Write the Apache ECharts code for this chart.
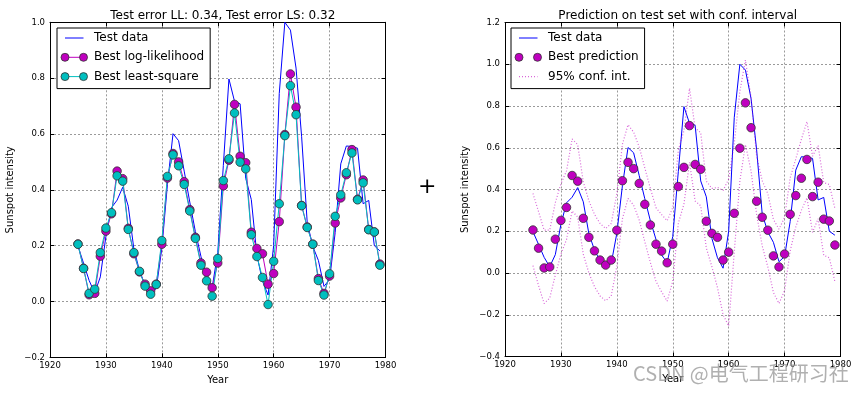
<!DOCTYPE html>
<html>
<head>
<meta charset="utf-8">
<script src="https://cdn.jsdelivr.net/npm/echarts@6/dist/echarts.min.js"></script>
<style>
html,body{margin:0;padding:0;background:#fff;}
#main{width:860px;height:393px;}
</style>
</head>
<body>
<div id="main"></div>
<script>
// ---------------- data ----------------
const years = [1925,1926,1927,1928,1929,1930,1931,1932,1933,1934,1935,1936,1937,1938,1939,1940,1941,1942,1943,1944,1945,1946,1947,1948,1949,1950,1951,1952,1953,1954,1955,1956,1957,1958,1959,1960,1961,1962,1963,1964,1965,1966,1967,1968,1969,1970,1971,1972,1973,1974,1975,1976,1977,1978,1979];
const testData = [0.198,0.137,0.075,0.030,0.088,0.233,0.336,0.363,0.409,0.341,0.188,0.111,0.058,0.030,0.046,0.190,0.419,0.601,0.576,0.467,0.356,0.250,0.161,0.086,0.050,0.175,0.487,0.797,0.717,0.708,0.441,0.365,0.166,0.073,0.023,0.200,0.745,1.000,0.972,0.836,0.590,0.283,0.197,0.147,0.054,0.079,0.247,0.493,0.557,0.555,0.549,0.350,0.362,0.200,0.181];
const bestLogLik = [0.206,0.119,0.024,0.029,0.162,0.252,0.314,0.467,0.440,0.262,0.171,0.106,0.062,0.038,0.062,0.205,0.442,0.530,0.500,0.429,0.329,0.230,0.138,0.105,0.049,0.138,0.414,0.506,0.706,0.520,0.497,0.248,0.190,0.171,0.062,0.100,0.286,0.598,0.815,0.696,0.344,0.267,0.205,0.082,0.029,0.091,0.281,0.371,0.454,0.544,0.366,0.435,0.258,0.249,0.134];
const bestLeastSq = [0.205,0.118,0.029,0.044,0.175,0.263,0.318,0.450,0.431,0.258,0.175,0.108,0.055,0.026,0.061,0.218,0.448,0.525,0.486,0.419,0.324,0.226,0.130,0.074,0.019,0.154,0.433,0.511,0.675,0.499,0.475,0.239,0.161,0.086,-0.011,0.144,0.350,0.594,0.773,0.669,0.343,0.265,0.205,0.075,0.023,0.099,0.305,0.382,0.461,0.532,0.364,0.425,0.257,0.249,0.130];
const bestPrediction = bestLogLik;
const ciUpper = [0.381,0.294,0.205,0.206,0.337,0.427,0.489,0.642,0.615,0.437,0.346,0.281,0.237,0.213,0.237,0.380,0.617,0.710,0.675,0.604,0.504,0.405,0.313,0.280,0.250,0.313,0.589,0.681,0.885,0.695,0.672,0.440,0.405,0.410,0.395,0.450,0.620,0.870,1.020,0.840,0.560,0.442,0.380,0.257,0.210,0.266,0.456,0.546,0.640,0.725,0.560,0.610,0.433,0.424,0.309];
const ciLower = [0.035,-0.060,-0.146,-0.120,-0.010,0.090,0.160,0.297,0.268,0.090,0.000,-0.065,-0.110,-0.133,-0.110,0.032,0.260,0.357,0.325,0.254,0.150,0.050,-0.040,-0.090,-0.135,-0.040,0.239,0.330,0.530,0.345,0.322,0.120,0.030,-0.070,-0.200,-0.254,0.100,0.440,0.615,0.490,0.280,0.130,0.030,-0.093,-0.146,-0.085,0.106,0.220,0.300,0.360,0.195,0.260,0.085,0.073,-0.041];
const xTicks = {min:1920, max:1980, interval:10};
const yLeft = {min:-0.2, max:1.0, interval:0.2};
const yRight = {min:-0.4, max:1.2, interval:0.2};
const titles = ['Test error LL: 0.34, Test error LS: 0.32','Prediction on test set with conf. interval'];

// ---------------- styling ----------------
const FONT = 'DejaVu Sans';
const BLUE = '#0000ff', MAG = '#bf00bf', CYAN = '#00bfbf', EDGE = '#333333';
const pairs = vals => years.map((y,i)=>[y, vals[i]]);
const fmtY = v => { const r = Math.round(v*10)/10; return (r<0?'\u2212':'') + Math.abs(r).toFixed(1); };

function svgIcon(inner){
  return 'image://data:image/svg+xml;charset=utf-8,' + encodeURIComponent(
    '<svg xmlns="http://www.w3.org/2000/svg" width="29" height="12" viewBox="0 0 29 12">' + inner + '</svg>');
}
const circ = (cx,col) => `<circle cx="${cx}" cy="6" r="4" fill="${col}" stroke="${EDGE}" stroke-width="0.8"/>`;
const icons = {
  test: svgIcon(`<line x1="5" y1="6" x2="23.5" y2="6" stroke="${BLUE}" stroke-width="1"/>`),
  ll: svgIcon(`<line x1="5" y1="6" x2="23.5" y2="6" stroke="${MAG}" stroke-width="1"/>` + circ(5,MAG) + circ(23.5,MAG)),
  ls: svgIcon(`<line x1="5" y1="6" x2="23.5" y2="6" stroke="${CYAN}" stroke-width="1"/>` + circ(5,CYAN) + circ(23.5,CYAN)),
  pred: svgIcon(circ(5,MAG) + circ(23.5,MAG)),
  ci: svgIcon(`<line x1="5" y1="6" x2="23.5" y2="6" stroke="${MAG}" stroke-opacity="0.6" stroke-width="1.2" stroke-dasharray="1,2"/>`)
};

function xAxes(grid){
  return [
    {type:'value', gridIndex:grid, position:'bottom', min:xTicks.min, max:xTicks.max, interval:xTicks.interval,
     name:'Year', nameLocation:'middle', nameGap:18,
     nameTextStyle:{fontFamily:FONT, fontSize:10, color:'#000'},
     axisLine:{show:true, onZero:false, lineStyle:{color:'#000', width:1}},
     axisTick:{show:true, inside:true, length:4, lineStyle:{color:'#000'}},
     axisLabel:{show:true, margin:4, fontFamily:FONT, fontSize:8.5, color:'#000', formatter:v=>String(v)},
     splitLine:{show:true, lineStyle:{color:'#9a9a9a', width:1, type:[2,2]}}},
    {type:'value', gridIndex:grid, position:'top', min:xTicks.min, max:xTicks.max, interval:xTicks.interval,
     axisLine:{show:true, onZero:false, lineStyle:{color:'#000', width:1}},
     axisTick:{show:true, inside:true, length:4, lineStyle:{color:'#000'}},
     axisLabel:{show:false}, splitLine:{show:false}}
  ];
}
function yAxes(grid, r){
  return [
    {type:'value', gridIndex:grid, position:'left', min:r.min, max:r.max, interval:r.interval,
     name:'Sunspot intensity', nameLocation:'middle', nameGap:35, nameRotate:90,
     nameTextStyle:{fontFamily:FONT, fontSize:10, color:'#000'},
     axisLine:{show:true, onZero:false, lineStyle:{color:'#000', width:1}},
     axisTick:{show:true, inside:true, length:4, lineStyle:{color:'#000'}},
     axisLabel:{show:true, margin:5, fontFamily:FONT, fontSize:8.5, color:'#000', formatter:fmtY},
     splitLine:{show:true, lineStyle:{color:'#9a9a9a', width:1, type:[2,2]}}},
    {type:'value', gridIndex:grid, position:'right', min:r.min, max:r.max, interval:r.interval,
     axisLine:{show:true, onZero:false, lineStyle:{color:'#000', width:1}},
     axisTick:{show:true, inside:true, length:4, lineStyle:{color:'#000'}},
     axisLabel:{show:false}, splitLine:{show:false}}
  ];
}
const legendBase = {
  orient:'vertical', backgroundColor:'#fff', borderColor:'#000', borderWidth:1, borderRadius:0,
  padding:[2,6,4,3], itemWidth:29, itemHeight:12, itemGap:3.3,
  textStyle:{fontFamily:FONT, fontSize:12, color:'#000', lineHeight:16},
  selectedMode:false
};
const markerStyle = col => ({color:col, borderColor:EDGE, borderWidth:0.8, opacity:1});

const option = {
  animation:false,
  backgroundColor:'#fff',
  title:[
    {text:titles[0], left:217.75, top:5, textAlign:'center', textStyle:{fontFamily:FONT, fontSize:12, fontWeight:'normal', color:'#000'}},
    {text:titles[1], left:672.75, top:5, textAlign:'center', textStyle:{fontFamily:FONT, fontSize:12, fontWeight:'normal', color:'#000'}}
  ],
  grid:[
    {left:50, top:22.3, width:335.5, height:335},
    {left:505, top:22.5, width:335.5, height:334}
  ],
  xAxis:[...xAxes(0), ...xAxes(1)],
  yAxis:[...yAxes(0, yLeft), ...yAxes(1, yRight)],
  legend:[
    Object.assign({}, legendBase, {left:57, top:28, data:[
      {name:'Test data', icon:icons.test},
      {name:'Best log-likelihood', icon:icons.ll},
      {name:'Best least-square', icon:icons.ls}]}),
    Object.assign({}, legendBase, {left:511, top:28, data:[
      {name:'Test data', icon:icons.test},
      {name:'Best prediction', icon:icons.pred},
      {name:'95% conf. int.', icon:icons.ci}]})
  ],
  series:[
    {name:'Test data', type:'line', xAxisIndex:0, yAxisIndex:0, data:pairs(testData), symbol:'none',
     lineStyle:{color:BLUE, width:1}, itemStyle:{color:BLUE}},
    {name:'Best log-likelihood', type:'line', xAxisIndex:0, yAxisIndex:0, data:pairs(bestLogLik),
     symbol:'circle', symbolSize:8.5, showSymbol:true, lineStyle:{color:MAG, width:1}, itemStyle:markerStyle(MAG)},
    {name:'Best least-square', type:'line', xAxisIndex:0, yAxisIndex:0, data:pairs(bestLeastSq),
     symbol:'circle', symbolSize:8.5, showSymbol:true, lineStyle:{color:CYAN, width:1}, itemStyle:markerStyle(CYAN)},

    {name:'Test data', type:'line', xAxisIndex:2, yAxisIndex:2, data:pairs(testData), symbol:'none',
     lineStyle:{color:BLUE, width:1}, itemStyle:{color:BLUE}},
    {name:'Best prediction', type:'scatter', xAxisIndex:2, yAxisIndex:2, data:pairs(bestPrediction),
     symbol:'circle', symbolSize:8.5, itemStyle:markerStyle(MAG), z:3},
    {name:'95% conf. int.', type:'line', xAxisIndex:2, yAxisIndex:2, data:pairs(ciUpper), symbol:'none',
     lineStyle:{color:MAG, width:1.2, type:[1,2], opacity:0.6}, itemStyle:{color:MAG}},
    {name:'95% conf. int.', type:'line', xAxisIndex:2, yAxisIndex:2, data:pairs(ciLower), symbol:'none',
     lineStyle:{color:MAG, width:1.2, type:[1,2], opacity:0.6}, itemStyle:{color:MAG}}
  ],
  graphic:[
    {type:'text', left:418, top:176, silent:true,
     style:{text:'+', fontFamily:FONT, fontSize:22, fill:'#000'}},
    {type:'text', left:633, top:363, silent:true, z:100,
     style:{text:'CSDN @电气工程研习社', fontFamily:'Noto Sans CJK SC', fontSize:20, fill:'rgba(150,150,150,0.75)'}}
  ]
};

function preload(urls){
  return Promise.all(urls.map(u => new Promise(res => {
    const img = new Image(); img.onload = res; img.onerror = res; img.src = u.replace(/^image:\/\//,'');
  })));
}
const chart = echarts.init(document.getElementById('main'), null, {renderer:'canvas'});
preload(Object.values(icons)).then(() => { chart.setOption(option); });
</script>
</body>
</html>
